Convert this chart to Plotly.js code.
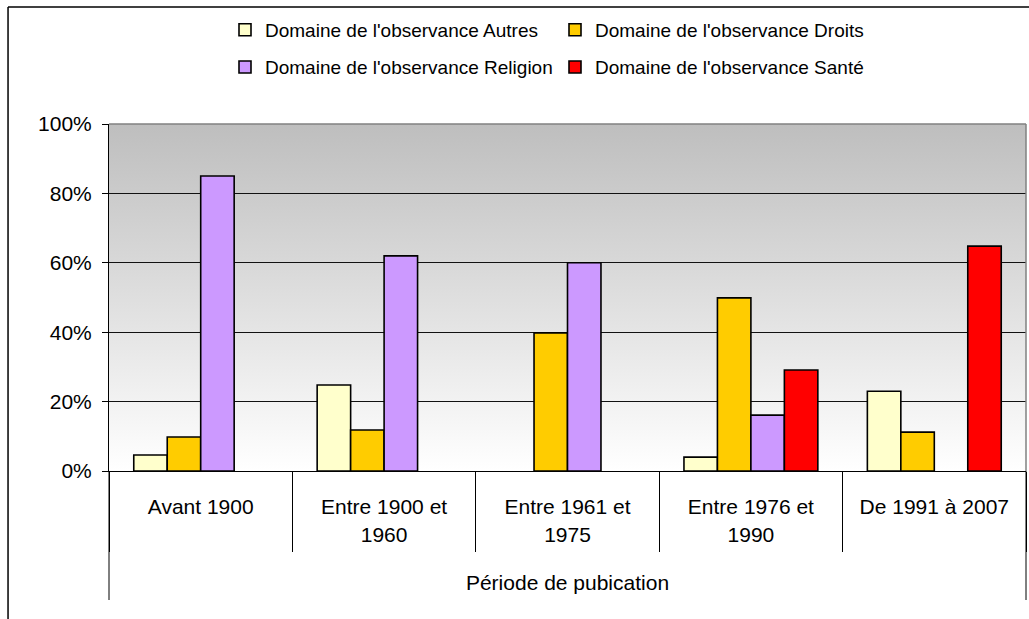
<!DOCTYPE html>
<html>
<head>
<meta charset="utf-8">
<script src="https://cdn.plot.ly/plotly-3.0.1.min.js"></script>
<style>
  html, body { margin: 0; padding: 0; background: #fff; }
  #chart { width: 1029px; height: 619px; }
</style>
</head>
<body>
<div id="chart"></div>
<script>
// ---- data ----
const categories = [
  "Avant 1900",
  "Entre 1900 et<br>1960",
  "Entre 1961 et<br>1975",
  "Entre 1976 et<br>1990",
  "De 1991 à 2007"
];
const seriesNames = [
  "Domaine de l'observance Autres",
  "Domaine de l'observance Droits",
  "Domaine de l'observance Religion",
  "Domaine de l'observance Santé"
];
const autres   = [0.046, 0.248, null, 0.040, 0.230];
const droits   = [0.098, 0.118, 0.398, 0.499, 0.112];
const religion = [0.850, 0.620, 0.600, 0.161, null];
const sante    = [null, null, null, 0.291, 0.648];
const yTickVals  = [0, 0.2, 0.4, 0.6, 0.8, 1.0];
const xAxisTitle = "Période de pubication";

// ---- styling ----
const colors = ["#FFFFCC", "#FFCC00", "#CC99FF", "#FF0000"];
const legendIds = ["legend", "legend", "legend2", "legend2"];
const FONT = "Liberation Sans, Arial, sans-serif";

const allSeries = [autres, droits, religion, sante];
const traces = allSeries.map((vals, i) => ({
  type: "bar",
  name: seriesNames[i],
  x: categories,
  y: vals,
  legend: legendIds[i],
  marker: { color: colors[i], line: { color: "#000", width: 1.6 } },
  hoverinfo: "skip"
}));

const gradSvg =
  "<svg xmlns='http://www.w3.org/2000/svg' width='100' height='100' preserveAspectRatio='none'>" +
  "<defs><linearGradient id='g' x1='0' y1='0' x2='0' y2='1'>" +
  "<stop offset='0' stop-color='#BEBEBE'/><stop offset='1' stop-color='#FFFFFF'/>" +
  "</linearGradient></defs><rect width='100' height='100' fill='url(#g)'/></svg>";
const gradUri = "data:image/svg+xml;charset=utf-8," + encodeURIComponent(gradSvg);

const legendCommon = {
  orientation: "h",
  x: 0.1265, xanchor: "left",
  yanchor: "middle",
  font: { family: FONT, size: 19, color: "#000" },
  entrywidth: 285, entrywidthmode: "pixels",
  bgcolor: "rgba(0,0,0,0)",
  itemclick: false, itemdoubleclick: false
};

const layout = {
  width: 1029,
  height: 619,
  margin: { l: 109, r: 3, t: 124, b: 148 },
  paper_bgcolor: "#FFFFFF",
  plot_bgcolor: "rgba(0,0,0,0)",
  font: { family: FONT, size: 20, color: "#000" },
  barmode: "group",
  bargap: 0.27,
  bargroupgap: 0,
  showlegend: true,
  legend: Object.assign({}, legendCommon, { y: 1.271 }),
  legend2: Object.assign({}, legendCommon, { y: 1.164 }),
  xaxis: {
    type: "category",
    showline: true, linecolor: "#000", linewidth: 1,
    ticks: "outside", tickson: "boundaries", ticklen: 80, tickcolor: "#000", tickwidth: 1,
    ticklabelstandoff: 17,
    showgrid: false,
    tickfont: { family: FONT, size: 21, color: "#000" },
    title: { text: xAxisTitle, font: { family: FONT, size: 21, color: "#000" }, standoff: 30 },
    fixedrange: true
  },
  yaxis: {
    range: [0, 1],
    tickvals: yTickVals,
    tickformat: ".0%",
    showline: true, linecolor: "#000", linewidth: 1,
    ticks: "outside", ticklen: 6, tickcolor: "#000",
    ticklabelstandoff: 6,
    showgrid: true, gridcolor: "#111", gridwidth: 1,
    zeroline: false,
    tickfont: { family: FONT, size: 21, color: "#000" },
    fixedrange: true
  },
  images: [{
    source: gradUri,
    xref: "paper", yref: "paper",
    x: 0, y: 1, sizex: 1, sizey: 1,
    xanchor: "left", yanchor: "top",
    sizing: "stretch", layer: "below"
  }],
  shapes: [
    // plot-area top and right borders (grey)
    { type: "line", xref: "paper", yref: "paper", x0: 0, x1: 1, y0: 1, y1: 1,
      line: { color: "#808080", width: 1.5 }, layer: "above" },
    { type: "line", xref: "paper", yref: "paper", x0: 1, x1: 1, y0: 0, y1: 1,
      line: { color: "#808080", width: 1.5 }, layer: "above" },
    // outer category-level dividers
    { type: "line", xref: "paper", yref: "paper", x0: 0, x1: 0, y0: 0, y1: -0.3718,
      line: { color: "#000", width: 1 } },
    { type: "line", xref: "paper", yref: "paper", x0: 1, x1: 1, y0: 0, y1: -0.3718,
      line: { color: "#000", width: 1 } },
    // chart outer border (top and left)
    { type: "line", xref: "paper", yref: "paper", x0: -0.1101, x1: 1.01, y0: 1.337, y1: 1.337,
      line: { color: "#000", width: 1.5 } },
    { type: "line", xref: "paper", yref: "paper", x0: -0.1101, x1: -0.1101, y0: 1.337, y1: -0.45,
      line: { color: "#000", width: 1.5 } }
  ]
};

Plotly.newPlot("chart", traces, layout, { displayModeBar: false, staticPlot: true });
</script>
</body>
</html>
